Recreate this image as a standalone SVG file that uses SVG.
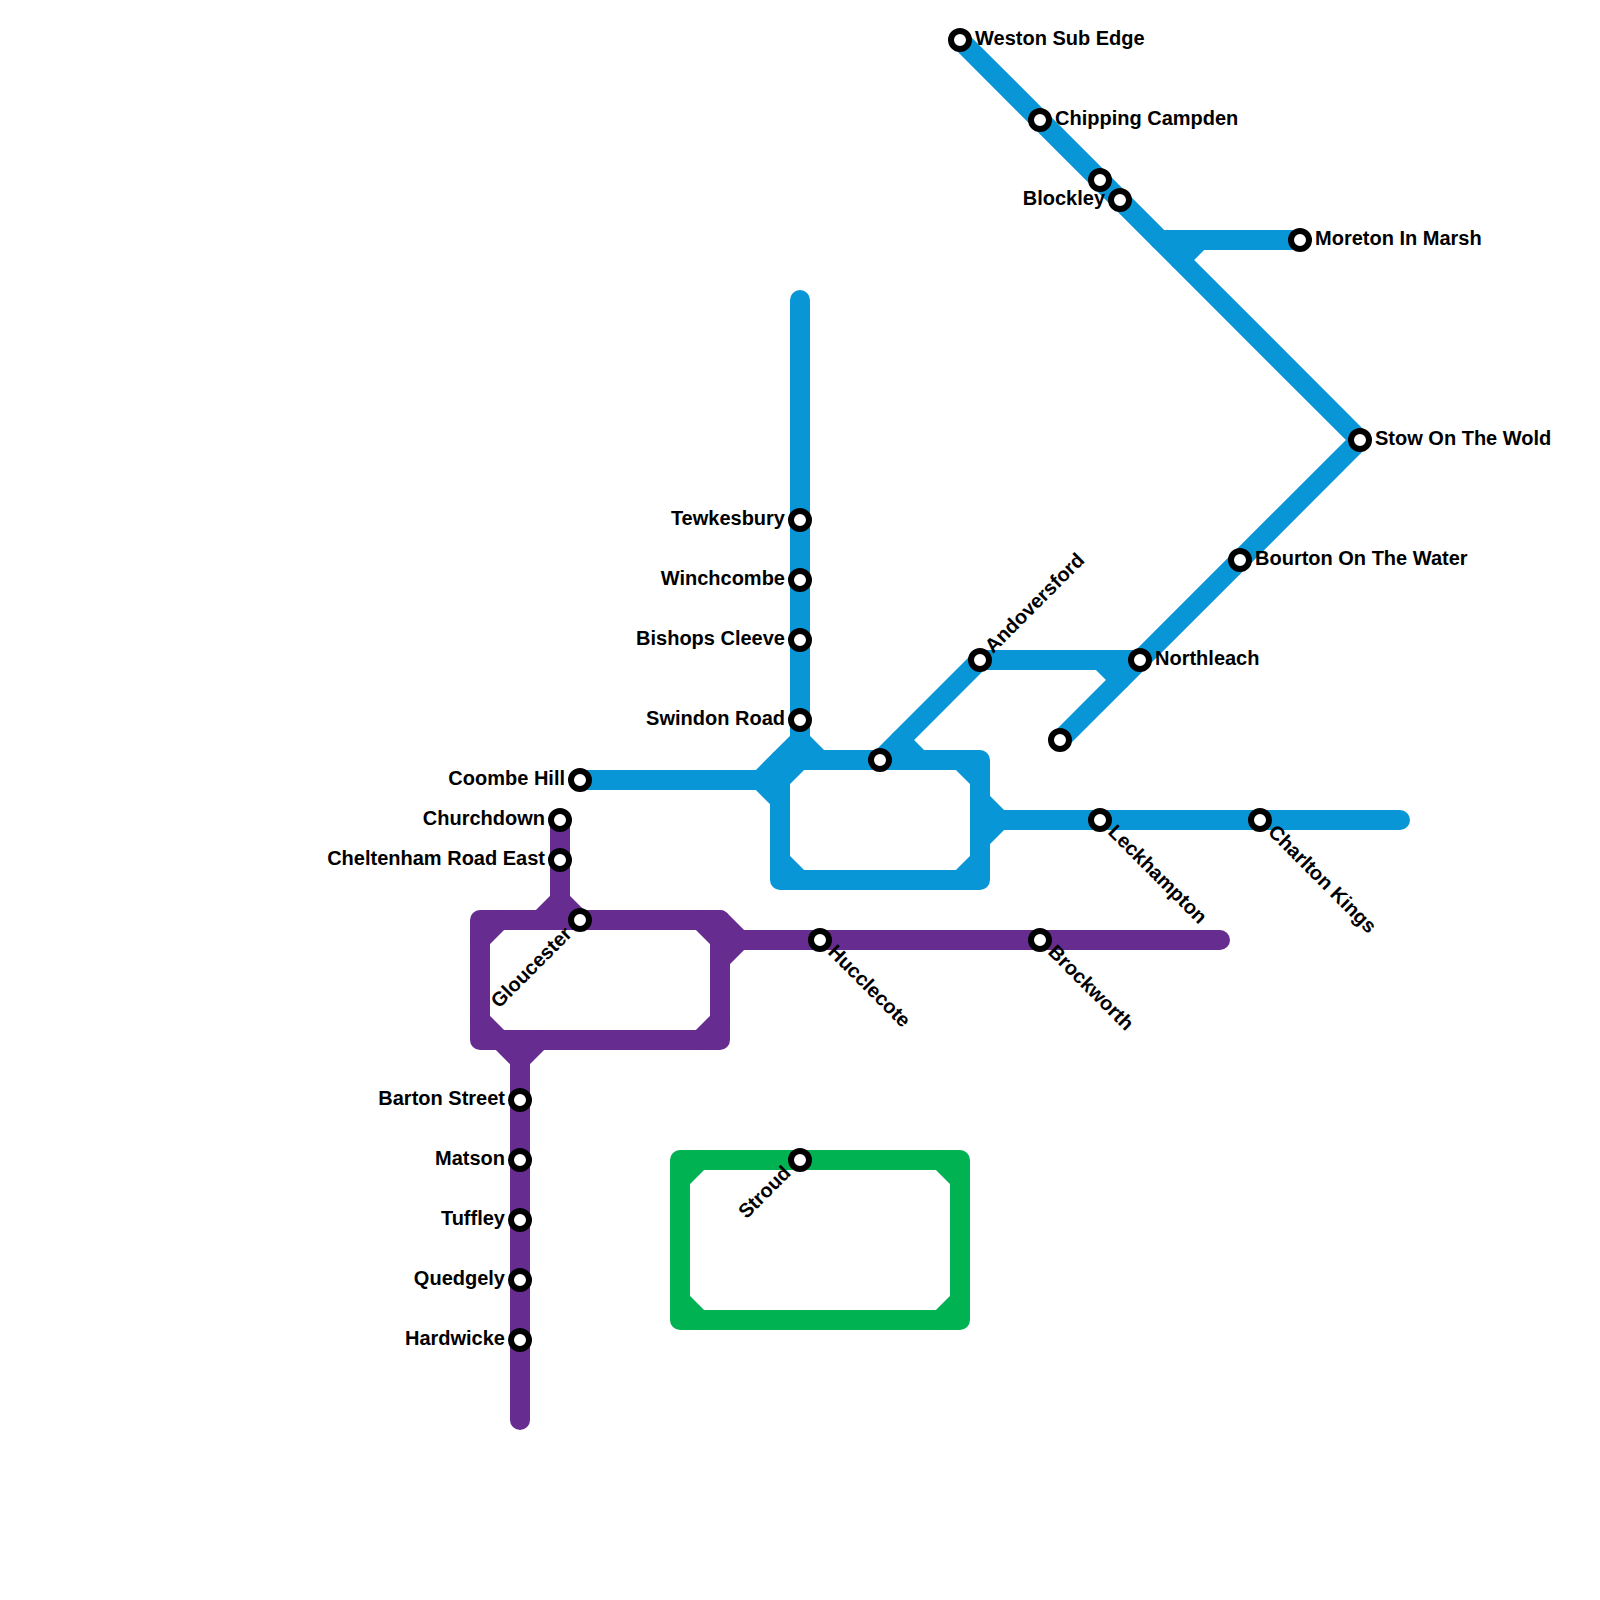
<svg xmlns="http://www.w3.org/2000/svg" width="1600" height="1600" viewBox="0 0 1600 1600">
<style>
.l{fill:none;stroke-width:20;stroke-linecap:round;stroke-linejoin:round}
.b{stroke:#0896d7}.p{stroke:#662c90}.g{stroke:#00b251}
.s circle{fill:#fff;stroke:#000;stroke-width:6}
.s text{font:bold 20px "Liberation Sans",Arial,sans-serif;fill:#000}
.e{text-anchor:end}
</style>
<rect width="1600" height="1600" fill="#fff"/>
<g id="connectors">
<g id="line-blue" class="l b">
<path d="M800 300V740"/>
<path d="M580 780H760"/>
<path d="M800 740L760 780L780 800"/>
<path d="M800 740L820 760"/>
<path d="M780 760H980V880H780Z"/>
<path d="M780 780L800 760M960 760L980 780M980 860L960 880M800 880L780 860"/>
<path d="M980 660L880 760"/>
<path d="M900 740L920 760"/>
<path d="M980 800L1000 820L980 840"/>
<path d="M1000 820H1400"/>
<path d="M980 660H1140"/>
<path d="M1100 660L1120 680"/>
<path d="M1060 740L1360 440L960 40"/>
<path d="M1160 240H1300"/>
<path d="M1200 240L1180 260"/>
</g>
<g id="line-purple" class="l p">
<path d="M560 820V900"/>
<path d="M540 920L560 900L580 920"/>
<path d="M480 920H720V1040H480Z"/>
<path d="M480 940L500 920M700 920L720 940M720 1020L700 1040M500 1040L480 1020"/>
<path d="M720 920L740 940L720 960"/>
<path d="M740 940H1220"/>
<path d="M500 1040L520 1060L540 1040"/>
<path d="M520 1060V1420"/>
</g>
<g id="line-green" class="l g">
<path d="M680 1160H960V1320H680Z"/>
<path d="M680 1180L700 1160M940 1160L960 1180M960 1300L940 1320M700 1320L680 1300"/>
</g>
</g>
<g id="tewkesbury" class="s"><circle cx="800" cy="520" r="9"/><text class="e" x="785" y="525">Tewkesbury</text></g>
<g id="winchcombe" class="s"><circle cx="800" cy="580" r="9"/><text class="e" x="785" y="585">Winchcombe</text></g>
<g id="bishops-cleeve" class="s"><circle cx="800" cy="640" r="9"/><text class="e" x="785" y="645">Bishops Cleeve</text></g>
<g id="swindon-road" class="s"><circle cx="800" cy="720" r="9"/><text class="e" x="785" y="725">Swindon Road</text></g>
<g id="coombe-hill" class="s"><circle cx="580" cy="780" r="9"/><text class="e" x="565" y="785">Coombe Hill</text></g>
<g id="cheltenham-junction" class="s"><circle cx="880" cy="760" r="9"/></g>
<g id="andoversford" class="s"><circle cx="980" cy="660" r="9"/><text transform="translate(993 654) rotate(-45)">Andoversford</text></g>
<g id="northleach" class="s"><circle cx="1140" cy="660" r="9"/><text x="1155" y="665">Northleach</text></g>
<g id="branch-end" class="s"><circle cx="1060" cy="740" r="9"/></g>
<g id="bourton" class="s"><circle cx="1240" cy="560" r="9"/><text x="1255" y="565">Bourton On The Water</text></g>
<g id="stow" class="s"><circle cx="1360" cy="440" r="9"/><text x="1375" y="445">Stow On The Wold</text></g>
<g id="moreton" class="s"><circle cx="1300" cy="240" r="9"/><text x="1315" y="245">Moreton In Marsh</text></g>
<g id="blockley-a" class="s"><circle cx="1100" cy="180" r="9"/></g>
<g id="blockley" class="s"><circle cx="1120" cy="200" r="9"/><text class="e" x="1105" y="205">Blockley</text></g>
<g id="chipping-campden" class="s"><circle cx="1040" cy="120" r="9"/><text x="1055" y="125">Chipping Campden</text></g>
<g id="weston-sub-edge" class="s"><circle cx="960" cy="40" r="9"/><text x="975" y="45">Weston Sub Edge</text></g>
<g id="leckhampton" class="s"><circle cx="1100" cy="820" r="9"/><text transform="translate(1107 833) rotate(45)">Leckhampton</text></g>
<g id="charlton-kings" class="s"><circle cx="1260" cy="820" r="9"/><text transform="translate(1267 833) rotate(45)">Charlton Kings</text></g>
<g id="churchdown" class="s"><circle cx="560" cy="820" r="9"/><text class="e" x="545" y="825">Churchdown</text></g>
<g id="cheltenham-road-east" class="s"><circle cx="560" cy="860" r="9"/><text class="e" x="545" y="865">Cheltenham Road East</text></g>
<g id="gloucester" class="s"><circle cx="580" cy="920" r="9"/><text class="e" transform="translate(573 935) rotate(-45)">Gloucester</text></g>
<g id="hucclecote" class="s"><circle cx="820" cy="940" r="9"/><text transform="translate(827 953) rotate(45)">Hucclecote</text></g>
<g id="brockworth" class="s"><circle cx="1040" cy="940" r="9"/><text transform="translate(1047 953) rotate(45)">Brockworth</text></g>
<g id="barton-street" class="s"><circle cx="520" cy="1100" r="9"/><text class="e" x="505" y="1105">Barton Street</text></g>
<g id="matson" class="s"><circle cx="520" cy="1160" r="9"/><text class="e" x="505" y="1165">Matson</text></g>
<g id="tuffley" class="s"><circle cx="520" cy="1220" r="9"/><text class="e" x="505" y="1225">Tuffley</text></g>
<g id="quedgely" class="s"><circle cx="520" cy="1280" r="9"/><text class="e" x="505" y="1285">Quedgely</text></g>
<g id="hardwicke" class="s"><circle cx="520" cy="1340" r="9"/><text class="e" x="505" y="1345">Hardwicke</text></g>
<g id="stroud" class="s"><circle cx="800" cy="1160" r="9"/><text class="e" transform="translate(792 1174) rotate(-45)">Stroud</text></g>
</svg>
